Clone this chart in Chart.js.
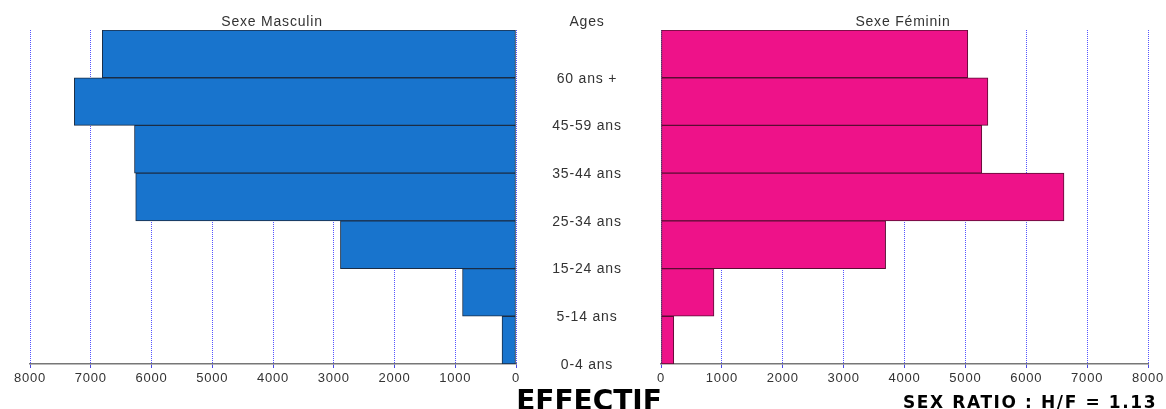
<!DOCTYPE html>
<html>
<head>
<meta charset="utf-8">
<script src="https://cdn.jsdelivr.net/npm/chart.js@4.4.0/dist/chart.umd.min.js"></script>
<style>
body { margin: 0; background: #fff; width: 1166px; height: 409px; position: relative; overflow: hidden; font-family: 'Liberation Sans', Arial, sans-serif; }
.box { position: absolute; top: 0; height: 409px; }
#male { left: 0; width: 560px; }
#female { left: 520px; width: 646px; }
.lbl { position: absolute; top: 13px; line-height: 16px; color: #333; font-size: 14px; letter-spacing: 0.8px; transform: translateX(-50%); white-space: nowrap; }
.big { position: absolute; font-family: 'DejaVu Sans', Verdana, sans-serif; font-weight: bold; color: #000; white-space: nowrap; }
</style>
</head>
<body>
<div class="box" id="male"><canvas id="maleChart"></canvas></div>
<div class="box" id="female"><canvas id="femaleChart"></canvas></div>
<div class="lbl" style="left:272px">Sexe Masculin</div>
<div class="lbl" style="left:587px">Ages</div>
<div class="lbl" style="left:903px">Sexe Féminin</div>
<div class="big" style="left:589px; top:385px; font-size:28px; line-height:32px; transform:translateX(-50%)">EFFECTIF</div>
<div class="big" style="left:903px; top:392px; font-size:17px; line-height:21px; letter-spacing:1.6px">SEX RATIO : H/F = 1.13</div>
<script>
// age groups, top to bottom
const ages = ['60 ans +', '45-59 ans', '35-44 ans', '25-34 ans', '15-24 ans', '5-14 ans', '0-4 ans'];
const maleValues = [6810, 7270, 6280, 6260, 2890, 880, 230];
const femaleValues = [5040, 5370, 5270, 6620, 3690, 870, 210];
const axisTicks = [0, 1000, 2000, 3000, 4000, 5000, 6000, 7000, 8000];

Chart.defaults.font.family = "'Liberation Sans', Arial, sans-serif";
Chart.defaults.animation = false;

function xScale(reverse) {
    return {
        type: 'linear',
        reverse: reverse,
        min: axisTicks[0],
        max: axisTicks[axisTicks.length - 1],
        afterBuildTicks: (scale) => { scale.ticks = axisTicks.map(v => ({ value: v })); },
        afterFit: (scale) => { scale.height = 45; },
        ticks: { color: '#333', font: { size: 13 }, padding: 3, maxRotation: 0, autoSkip: false, callback: (v) => String(v) },
        grid: { color: '#5555ff', lineWidth: 1, tickColor: '#4a4ae0', tickLength: 4, tickBorderDash: [] },
        border: { display: true, color: '#777', width: 1.5, dash: [1, 1] }
    };
}

// wider lettering, like the source picture
const spacing = {
    id: 'spacing',
    beforeDraw(chart) { chart.ctx.letterSpacing = '0.8px'; }
};

// draws the age labels between the two halves, at the bottom edge of each bar
const ageLabels = {
    id: 'ageLabels',
    afterDraw(chart) {
        const y = chart.scales.y;
        const ctx = chart.ctx;
        const band = (y.bottom - y.top) / ages.length;
        ctx.save();
        ctx.letterSpacing = '0.8px';
        ctx.fillStyle = '#333';
        ctx.font = "14px 'Liberation Sans', Arial, sans-serif";
        ctx.textAlign = 'center';
        ctx.textBaseline = 'middle';
        ages.forEach((label, i) => {
            ctx.fillText(label, chart.chartArea.left - 74, y.getPixelForValue(i) + band / 2 + 1);
        });
        ctx.restore();
    }
};

function makeChart(id, values, fill, border, reverse, padding, plugins) {
    return new Chart(document.getElementById(id).getContext('2d'), {
        type: 'bar',
        data: {
            labels: ages,
            datasets: [{
                data: values,
                backgroundColor: fill,
                borderColor: border,
                borderWidth: 1,
                borderSkipped: false,
                categoryPercentage: 1,
                barPercentage: 1
            }]
        },
        options: {
            indexAxis: 'y',
            responsive: true,
            maintainAspectRatio: false,
            layout: { padding: padding },
            scales: {
                x: xScale(reverse),
                y: { display: false, offset: true }
            },
            plugins: { legend: { display: false }, tooltip: { enabled: false } }
        },
        plugins: plugins
    });
}

makeChart('maleChart', maleValues, '#1874CD', '#1b2d45', true, { top: 30, left: 30, right: 44, bottom: 0 }, [spacing]);
makeChart('femaleChart', femaleValues, '#EE1289', '#5a0d33', false, { top: 30, left: 141, right: 18, bottom: 0 }, [spacing, ageLabels]);
</script>
</body>
</html>
